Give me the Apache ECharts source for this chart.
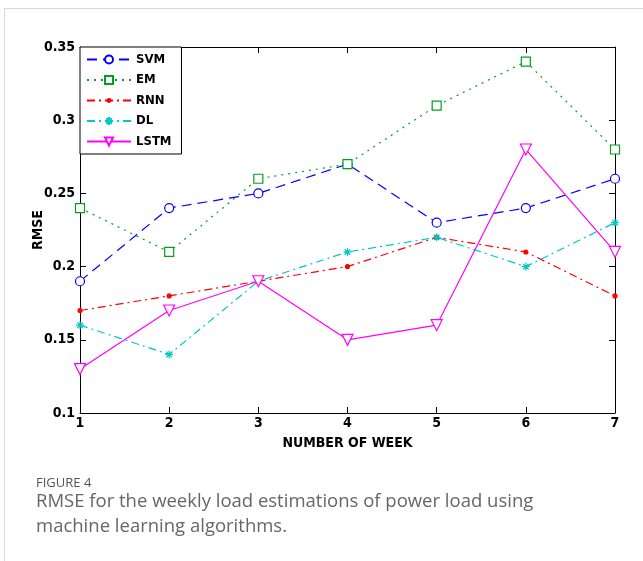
<!DOCTYPE html>
<html>
<head>
<meta charset="utf-8">
<script src="https://cdn.jsdelivr.net/npm/echarts@6/dist/echarts.min.js"></script>
<style>
  html, body { margin: 0; padding: 0; background: #fff; }
  #frame { position: absolute; left: 4px; top: 8px; width: 700px; height: 600px;
    border-top: 1px solid #d8d8d8; border-left: 1px solid #d8d8d8; }
  #chart { position: absolute; left: 0; top: 0; width: 643px; height: 561px; }
</style>
</head>
<body>
<div id="frame"></div>
<div id="chart"></div>
<script>
const weeks = [1, 2, 3, 4, 5, 6, 7];
const svm = [0.19, 0.24, 0.25, 0.27, 0.23, 0.24, 0.26];
const em = [0.24, 0.21, 0.26, 0.27, 0.31, 0.34, 0.28];
const rnn = [0.17, 0.18, 0.19, 0.20, 0.22, 0.21, 0.18];
const dl = [0.16, 0.14, 0.19, 0.21, 0.22, 0.20, 0.23];
const lstm = [0.13, 0.17, 0.19, 0.15, 0.16, 0.28, 0.21];

const axisFont = '"Liberation Sans Narrow", "DejaVu Sans Condensed", sans-serif';

// small dot inside an empty 10x10 box, so the legend icon keeps it small
const smallDot = "path://M0,0M10,10M5,3.2A1.8,1.8,0,1,1,5,6.8A1.8,1.8,0,1,1,5,3.2Z";
const star = "path://M0,5L10,5M5,0L5,10M1.5,1.5L8.5,8.5M8.5,1.5L1.5,8.5";
const downTri = "path://M0,0L10,0L5,9Z";

function pairs(vals) {
  return weeks.map((w, i) => [w, vals[i]]);
}

function makeSeries(name, vals, color, lineType, symbol, size, fill) {
  return {
    name,
    type: "line",
    data: pairs(vals),
    symbol,
    symbolSize: size,
    showAllSymbol: true,
    lineStyle: { color, width: 1.2, type: lineType },
    itemStyle: { color: fill, borderColor: color, borderWidth: 1.2 },
    emphasis: { disabled: true },
    z: 3,
  };
}

const chart = echarts.init(document.getElementById("chart"));
const tickStyle = { show: true, inside: true, length: 6, lineStyle: { color: "#000" } };
chart.setOption({
  animation: false,
  grid: { left: 80, right: 28, top: 47, bottom: 148 },
  legend: {
    left: 80, top: 47, orient: "vertical",
    itemWidth: 44, itemHeight: 10, itemGap: 7.5,
    padding: [6, 10, 6, 6],
    backgroundColor: "#fff", borderColor: "#000", borderWidth: 1,
    textStyle: { fontFamily: axisFont, fontWeight: "bold", fontSize: 13, color: "#000" },
    data: ["SVM", "EM", "RNN", "DL", "LSTM"],
  },
  xAxis: [
    {
      type: "value", min: 1, max: 7, interval: 1,
      name: "NUMBER OF WEEK", nameLocation: "middle", nameGap: 23,
      nameTextStyle: { fontFamily: axisFont, fontWeight: "bold", fontSize: 14, color: "#000" },
      axisLine: { lineStyle: { color: "#000", width: 1 } },
      axisTick: tickStyle,
      axisLabel: { fontFamily: axisFont, fontWeight: "bold", fontSize: 14, color: "#000", margin: 3 },
      splitLine: { show: false },
    },
    {
      type: "value", min: 1, max: 7, interval: 1, position: "top",
      axisLine: { show: true, lineStyle: { color: "#000", width: 1 } },
      axisTick: tickStyle, axisLabel: { show: false }, splitLine: { show: false },
    },
  ],
  yAxis: [
    {
      type: "value", min: 0.1, max: 0.35, interval: 0.05,
      name: "RMSE", nameLocation: "middle", nameGap: 35, nameMoveOverlap: false,
      nameTextStyle: { fontFamily: axisFont, fontWeight: "bold", fontSize: 14, color: "#000" },
      axisLine: { show: true, lineStyle: { color: "#000", width: 1 } },
      axisTick: tickStyle,
      axisLabel: { fontFamily: axisFont, fontWeight: "bold", fontSize: 14, color: "#000", margin: 5 },
      splitLine: { show: false },
    },
    {
      type: "value", min: 0.1, max: 0.35, interval: 0.05, position: "right",
      axisLine: { show: true, lineStyle: { color: "#000", width: 1 } },
      axisTick: tickStyle, axisLabel: { show: false }, splitLine: { show: false },
    },
  ],
  series: [
    makeSeries("SVM", svm, "#0000ff", [10, 6], "circle", 9, "#fff"),
    makeSeries("EM", em, "#00a020", [2, 5], "rect", 9, "#fff"),
    makeSeries("RNN", rnn, "#ff0000", [8, 4, 2, 4], smallDot, 11, "#ff0000"),
    makeSeries("DL", dl, "#00c8c8", [8, 4, 2, 4], star, 8, "#00c8c8"),
    makeSeries("LSTM", lstm, "#ff00ff", "solid", downTri, 11, "#fff"),
  ],
  graphic: [
    { type: "text", left: 36, top: 477,
      style: { text: "FIGURE 4", fontFamily: '"Open Sans", sans-serif', fontSize: 13, fill: "#555" } },
    { type: "text", left: 36, top: 489,
      style: { text: "RMSE for the weekly load estimations of power load using\nmachine learning algorithms.",
               fontFamily: '"Open Sans", sans-serif', fontSize: 18.5, lineHeight: 25, fill: "#666" } },
  ],
});
</script>
</body>
</html>
